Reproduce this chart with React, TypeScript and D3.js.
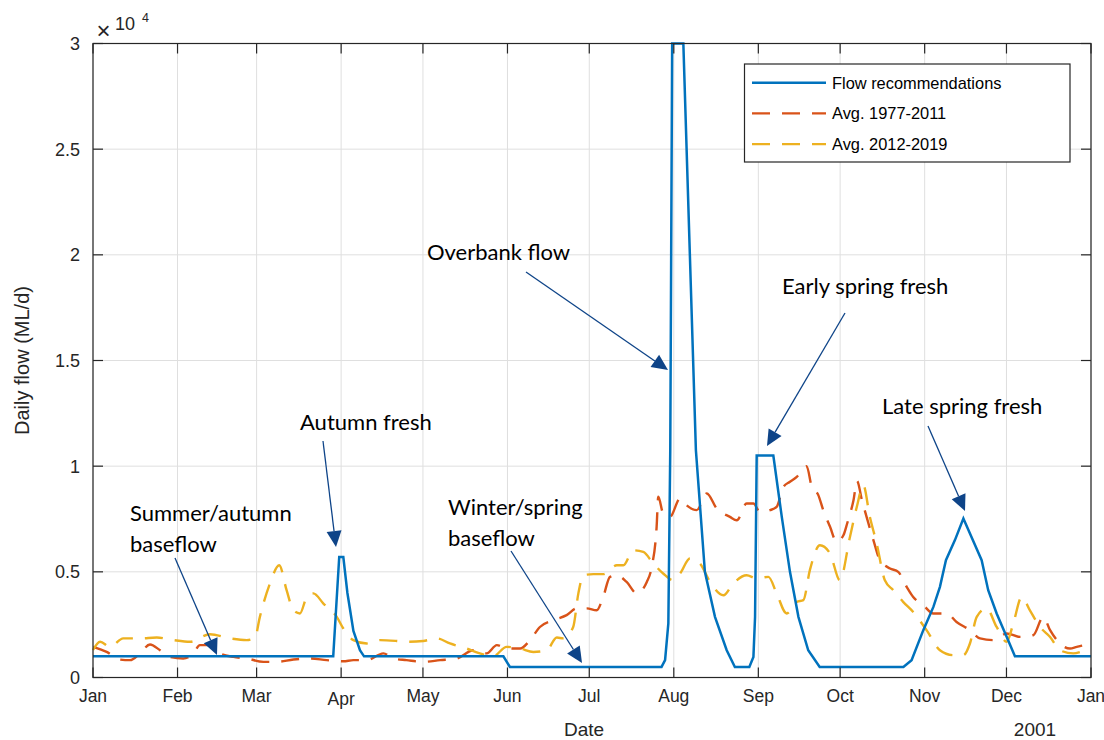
import React from "react";
import * as d3 from "d3";

// ---------- data: [day offset from 1 Jan 2000, flow ML/d] ----------
const flowRecommendations: [number, number][] = [
  [0, 1000], [88.1, 1000], [90.3, 5700], [91.8, 5700], [93.3, 4000], [95.5, 2200], [97.9, 1290], [99.4, 1000],
  [150.5, 1000], [152.9, 500], [208.5, 500], [209.8, 820], [211.0, 2560], [211.7, 10760], [212.4, 30000],
  [216.5, 30000], [221.1, 10760], [224.4, 5000], [228.1, 2870], [232.4, 1290], [235.4, 500], [240.7, 500],
  [242.2, 975], [242.8, 2870], [243.4, 10500], [249.5, 10500], [252.6, 7600], [255.6, 5000], [258.7, 2870],
  [262.3, 1290], [266.5, 500], [297.2, 500], [300.2, 820], [304.5, 2240], [308.2, 3340], [310.6, 4290],
  [312.8, 5550], [316.1, 6500], [319.2, 7520], [325.9, 5550], [328.3, 4130], [331.4, 3030], [335.1, 1920],
  [338.1, 1010], [366, 1000],
];

const avg1977to2011: [number, number][] = [
  [0.1, 1450], [5.0, 1210], [9.9, 850], [13.6, 820], [17.2, 1140], [20.9, 1560], [24.6, 1290], [28.2, 975],
  [33.1, 900], [36.8, 1140], [39.2, 1530], [42.3, 1530], [46.6, 1140], [51.5, 975], [56.4, 900], [62.5, 740],
  [67.4, 740], [73.5, 850], [79.6, 900], [85.7, 820], [91.8, 770], [95.5, 820], [100.4, 820], [106.5, 1140],
  [110.1, 900], [115.0, 820], [121.1, 740], [127.3, 820], [133.4, 900], [139.5, 1290], [144.4, 1140],
  [148.1, 1530], [151.7, 1370], [156.6, 1370], [160.3, 1770], [163.9, 2390], [168.8, 2710], [173.7, 2950],
  [177.4, 3270], [181.1, 3270], [184.7, 3180], [187.1, 3810], [189.6, 4760], [192.1, 4840], [195.7, 4520],
  [199.4, 3980], [203.1, 4520], [204.9, 5230], [206.7, 7130], [207.3, 8550], [209.1, 7760], [211.6, 7600],
  [215.3, 8470], [217.7, 8150], [221.4, 7920], [225.1, 8710], [228.7, 8000], [233.6, 7600], [236.1, 7440],
  [239.7, 8230], [242.2, 8230], [244.6, 7840], [248.3, 7920], [250.7, 8070], [253.2, 9020], [255.6, 9260],
  [258.1, 9490], [261.7, 10000], [263.6, 9020], [266.0, 8630], [267.8, 7920], [270.3, 7130], [272.7, 6420],
  [275.2, 6730], [276.6, 7300], [278.9, 8390], [280.2, 9300], [282.0, 8390], [283.7, 7600], [286.2, 6500],
  [288.6, 5550], [292.3, 5160], [295.3, 5000], [298.4, 4290], [300.8, 3810], [304.5, 3420], [308.2, 3030],
  [313.1, 3030], [316.7, 2630], [321.6, 2240], [325.3, 1850], [330.2, 1770], [335.1, 2080], [340.0, 1920],
  [344.8, 2000], [348.5, 2870], [351.0, 2240], [354.6, 1610], [358.3, 1370], [360.8, 1450], [364.4, 1530],
  [366, 1530],
];

const avg2012to2019: [number, number][] = [
  [0, 1300], [2.6, 1690], [6.2, 1450], [11.1, 1850], [17.2, 1850], [23.4, 1890], [29.4, 1770], [35.6, 1690],
  [42.9, 2050], [50.2, 1850], [56.4, 1770], [59.4, 1890], [61.2, 2870], [64.9, 4450], [68.3, 5310],
  [71.0, 4130], [73.5, 3180], [75.9, 3030], [78.4, 3810], [80.8, 3980], [84.5, 3500], [89.4, 2870],
  [91.8, 2320], [95.5, 1770], [100.4, 1610], [105.3, 1770], [111.4, 1730], [115.0, 1690], [121.1, 1730],
  [126.0, 1850], [130.9, 1610], [137.0, 1370], [141.9, 1140], [146.8, 1010], [151.7, 1450], [156.6, 1370],
  [161.5, 1210], [166.4, 1290], [170.1, 1890], [172.5, 1850], [176.1, 2390], [178.0, 3980], [179.8, 4840],
  [183.5, 4890], [187.1, 4890], [192.1, 5310], [194.5, 5310], [198.1, 6020], [201.8, 5940], [205.5, 5390],
  [209.1, 4920], [212.8, 4600], [215.3, 4920], [218.9, 5630], [222.6, 5390], [226.3, 4520], [231.2, 3890],
  [234.8, 4450], [239.7, 4840], [243.4, 4690], [247.7, 4760], [250.7, 3980], [254.4, 3030], [258.1, 3580],
  [260.5, 3660], [262.9, 5080], [266.6, 6260], [270.3, 5870], [273.9, 4600], [277.6, 6650], [280.1, 8070],
  [282.5, 9100], [284.9, 7600], [287.4, 6340], [290.4, 4600], [293.5, 4130], [297.1, 3580], [300.8, 3100],
  [305.7, 2240], [310.6, 1290], [315.5, 1060], [319.2, 1060], [321.6, 1610], [324.1, 2870], [327.7, 3270],
  [331.4, 2390], [335.1, 1690], [337.5, 2560], [340.6, 3810], [343.6, 3180], [347.3, 2390], [351.0, 1920],
  [354.6, 1290], [359.5, 1140], [364.4, 1290], [366, 1300],
];

const monthLabels = ["Jan", "Feb", "Mar", "Apr", "May", "Jun", "Jul", "Aug", "Sep", "Oct", "Nov", "Dec", "Jan"];
const yTicks = [0, 5000, 10000, 15000, 20000, 25000, 30000];
const yTickLabels = ["0", "0.5", "1", "1.5", "2", "2.5", "3"];
const seriesNames = ["Flow recommendations", "Avg. 1977-2011", "Avg. 2012-2019"];

type Note = { lines: string[]; x: number; y: number; from: [number, number]; to: [number, number] };
const notes: Note[] = [
  { lines: ["Summer/autumn", "baseflow"], x: 130, y: 521, from: [175, 558], to: [217, 655] },
  { lines: ["Autumn fresh"], x: 300, y: 430, from: [323, 441], to: [336, 547] },
  { lines: ["Winter/spring", "baseflow"], x: 448, y: 515, from: [511, 551], to: [582, 663] },
  { lines: ["Overbank flow"], x: 427, y: 260, from: [526, 272], to: [668, 370] },
  { lines: ["Early spring fresh"], x: 782, y: 294, from: [845, 313], to: [767, 446] },
  { lines: ["Late spring fresh"], x: 882, y: 414, from: [928, 426], to: [965, 511] },
];

const COLORS = ["#0072BD", "#D95319", "#EDB120"];
const AX = "#262626";
const ARROW = "#0E4488";

export default function App() {
  const W = 1104, H = 740;
  const left = 93, right = 1091, top = 43.5, bottom = 677.5;
  const t0 = Date.UTC(2000, 0, 1);
  const toDate = (d: number) => new Date(t0 + d * 864e5);
  const x = d3.scaleUtc().domain([toDate(0), toDate(366)]).range([left, right]);
  const y = d3.scaleLinear().domain([0, 30000]).range([bottom, top]);
  const months = d3.utcMonth.range(toDate(0), toDate(367));

  const mk = (data: [number, number][], curve: any) =>
    d3.line<[number, number]>().x((d) => x(toDate(d[0]))).y((d) => y(d[1])).curve(curve)(data) || "";

  const flowPath = mk(flowRecommendations, d3.curveLinear);
  const oldPath = mk(avg1977to2011, d3.curveMonotoneX);
  const newPath = mk(avg2012to2019, d3.curveMonotoneX);

  const font = "'Liberation Sans', Arial, sans-serif";
  const noteFont = "Lato, 'Noto Sans', sans-serif";

  const arrowHead = (from: [number, number], to: [number, number]) => {
    const dx = to[0] - from[0], dy = to[1] - from[1];
    const L = Math.hypot(dx, dy);
    const ux = dx / L, uy = dy / L;
    const hl = 16, hw = 7.5;
    const bx = to[0] - ux * hl, by = to[1] - uy * hl;
    return {
      pts: `${to[0]},${to[1]} ${bx - uy * hw},${by + ux * hw} ${bx + uy * hw},${by - ux * hw}`,
      bx, by,
    };
  };

  return (
    <svg width={W} height={H} style={{ position: "absolute", left: 0, top: 0, background: "#fff" }}>
      {/* grid */}
      {months.map((m, i) => (
        <line key={"gx" + i} x1={x(m)} x2={x(m)} y1={top} y2={bottom} stroke="#DFDFDF" strokeWidth={1} />
      ))}
      {yTicks.map((v, i) => (
        <line key={"gy" + i} x1={left} x2={right} y1={y(v)} y2={y(v)} stroke="#DFDFDF" strokeWidth={1} />
      ))}

      {/* series */}
      <path d={oldPath} fill="none" stroke={COLORS[1]} strokeWidth={2.4} strokeDasharray="18 12" />
      <path d={newPath} fill="none" stroke={COLORS[2]} strokeWidth={2.4} strokeDasharray="18 12" />
      <path d={flowPath} fill="none" stroke={COLORS[0]} strokeWidth={2.5} strokeLinejoin="miter" />

      {/* box + ticks */}
      <rect x={left} y={top} width={right - left} height={bottom - top} fill="none" stroke={AX} strokeWidth={1.2} />
      {months.map((m, i) => (
        <g key={"tx" + i}>
          <line x1={x(m)} x2={x(m)} y1={bottom} y2={bottom - 10} stroke={AX} strokeWidth={1.2} />
          <line x1={x(m)} x2={x(m)} y1={top} y2={top + 10} stroke={AX} strokeWidth={1.2} />
          <text x={x(m)} y={monthLabels[i] === "Apr" ? 705 : 702} textAnchor="middle" fontFamily={font} fontSize={17.5} fill={AX}>
            {monthLabels[i]}
          </text>
        </g>
      ))}
      {yTicks.map((v, i) => (
        <g key={"ty" + i}>
          <line x1={left} x2={left + 10} y1={y(v)} y2={y(v)} stroke={AX} strokeWidth={1.2} />
          <line x1={right} x2={right - 10} y1={y(v)} y2={y(v)} stroke={AX} strokeWidth={1.2} />
          <text x={80} y={y(v) + 6.5} textAnchor="end" fontFamily={font} fontSize={18} fill={AX}>
            {yTickLabels[i]}
          </text>
        </g>
      ))}

      {/* exponent */}
      <text x={103.5} y={39} textAnchor="middle" fontFamily={font} fontSize={24} fontWeight={300} fill={AX}>×</text>
      <text x={115} y={30} fontFamily={font} fontSize={18} fill={AX}>10</text>
      <text x={142} y={22} fontFamily={font} fontSize={12.5} fill={AX}>4</text>

      {/* axis labels */}
      <text x={584} y={736} textAnchor="middle" fontFamily={font} fontSize={19} fill={AX}>Date</text>
      <text x={1035} y={736} textAnchor="middle" fontFamily={font} fontSize={19} fill={AX}>2001</text>
      <text transform={`translate(29,${(top + bottom) / 2}) rotate(-90)`} textAnchor="middle" fontFamily={font} fontSize={20} fill={AX}>
        Daily flow (ML/d)
      </text>

      {/* legend */}
      <rect x={744.5} y={64} width={325.5} height={98} fill="#fff" stroke={AX} strokeWidth={1.2} />
      {seriesNames.map((s, i) => {
        const yy = 82.7 + i * 30.7;
        return (
          <g key={"lg" + i}>
            <line x1={752} x2={826} y1={yy} y2={yy} stroke={COLORS[i]} strokeWidth={2.4} strokeDasharray={i === 0 ? undefined : "18 12"} />
            <text x={832} y={yy + 5.8} fontFamily={font} fontSize={16.4} fill="#000">{s}</text>
          </g>
        );
      })}

      {/* annotations */}
      {notes.map((n, i) => {
        const h = arrowHead(n.from, n.to);
        return (
          <g key={"n" + i}>
            {n.lines.map((l, j) => (
              <text key={j} x={n.x} y={n.y + j * 31} fontFamily={noteFont} fontSize={22} fill="#000">{l}</text>
            ))}
            <line x1={n.from[0]} y1={n.from[1]} x2={h.bx} y2={h.by} stroke={ARROW} strokeWidth={1.3} />
            <polygon points={h.pts} fill={ARROW} />
          </g>
        );
      })}
    </svg>
  );
}
